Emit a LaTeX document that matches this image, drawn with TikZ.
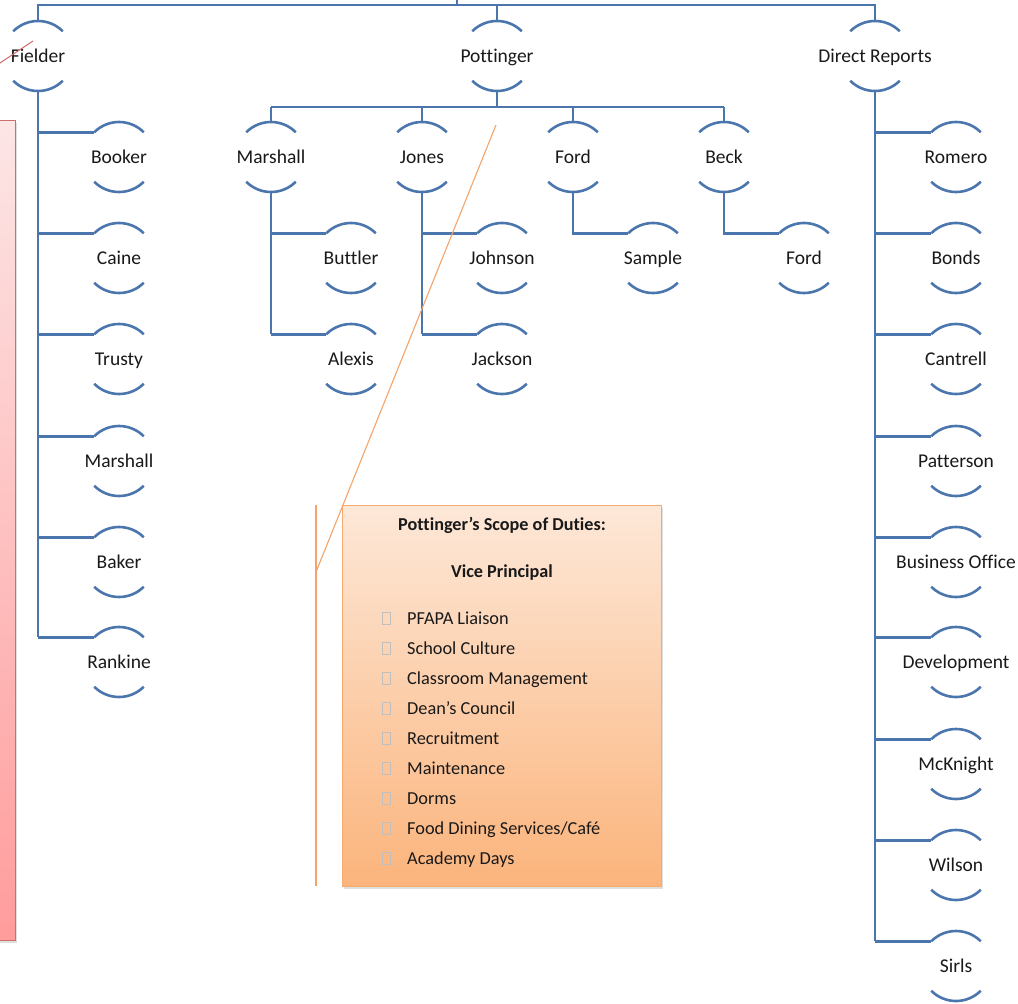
\documentclass[tikz,border=0pt]{standalone}
\usepackage{fontspec}
\setmainfont{Carlito}[Ligatures={NoCommon}]
\usetikzlibrary{calc,shadows}
\definecolor{orgline}{RGB}{74,118,173}
\definecolor{txt}{RGB}{25,25,25}
\definecolor{ptop}{RGB}{253,230,230}
\definecolor{pbot}{RGB}{255,156,156}
\definecolor{pborder}{RGB}{205,110,110}
\definecolor{otop}{RGB}{253,232,216}
\definecolor{obot}{RGB}{251,180,124}
\definecolor{oborder}{RGB}{246,170,110}
\definecolor{oline}{RGB}{244,164,106}
\definecolor{rline}{RGB}{214,110,110}
\begin{document}
\begin{tikzpicture}[x=1pt,y=1pt,
  person/.style={circle, minimum size=70pt, inner sep=0pt, outer sep=0pt,
    label={[font=\fontsize{19.5}{21}\selectfont, text=txt, text height=12.5pt, text depth=0pt, inner sep=0pt]center:#1}},
  conn/.style={draw=orgline, line width=2.9pt},
  arcst/.style={draw=orgline, line width=2.6pt},
  item/.style={anchor=base west, font=\fontsize{18.3}{20}\selectfont, text=txt, inner sep=0pt},
  head/.style={anchor=base, font=\bfseries\fontsize{18.2}{20}\selectfont, text=txt, inner sep=0pt},
  bul/.style={draw=black!25, line width=0.6pt},
  callbox/.style={rectangle, draw=oborder, line width=1pt, top color=otop, bottom color=obot,
    minimum width=319pt, minimum height=381pt, inner sep=0pt,
    drop shadow={opacity=0.25, shadow xshift=1.5pt, shadow yshift=-2.5pt}},
  pinkbox/.style={rectangle, draw=pborder, line width=1pt, top color=ptop, bottom color=pbot,
    minimum width=115pt, minimum height=820pt, inner sep=0pt,
    drop shadow={opacity=0.25, shadow xshift=1.5pt, shadow yshift=-2.5pt}},
  oln/.style={draw=oline, line width=1.1pt},
  rln/.style={draw=rline, line width=1.1pt}
]
\useasboundingbox (0,0) rectangle (1018,-1004);
\clip (0,0) rectangle (1018,-1004);
\fill[white] (0,0) rectangle (1018,-1004);

% left pink callout box (mostly off the picture)
\node[pinkbox] (leftbox) at (-42.5,-530) {};

% orange callout box
\node[callbox] (vpbox) at (501.5,-695.5) {};

% top level nodes
\node[person=Fielder] (fielder) at (38,-56) {};
\node[person=Pottinger] (pott) at (497,-56) {};
\node[person=Direct Reports] (dr) at (875,-56) {};

% Fielder's children
\node[person=Booker] (booker) at (119,-157) {};
\node[person=Caine] (caine) at (119,-258) {};
\node[person=Trusty] (trusty) at (119,-359) {};
\node[person=Marshall] (marshallA) at (119,-461) {};
\node[person=Baker] (baker) at (119,-562) {};
\node[person=Rankine] (rankine) at (119,-662) {};

% Pottinger's children
\node[person=Marshall] (marshallB) at (271,-157) {};
\node[person=Jones] (jones) at (422,-157) {};
\node[person=Ford] (fordA) at (573,-157) {};
\node[person=Beck] (beck) at (724,-157) {};
\node[person=Buttler] (buttler) at (351,-258) {};
\node[person=Alexis] (alexis) at (351,-359) {};
\node[person=Johnson] (johnson) at (502,-258) {};
\node[person=Jackson] (jackson) at (502,-359) {};
\node[person=Sample] (sample) at (653,-258) {};
\node[person=Ford] (fordB) at (804,-258) {};

% Direct reports
\node[person=Romero] (romero) at (956,-157) {};
\node[person=Bonds] (bonds) at (956,-258) {};
\node[person=Cantrell] (cantrell) at (956,-359) {};
\node[person=Patterson] (patterson) at (956,-461) {};
\node[person=Business Office] (busoff) at (956,-562) {};
\node[person=Development] (devel) at (956,-662) {};
\node[person=McKnight] (mcknight) at (956,-764) {};
\node[person=Wilson] (wilson) at (956,-865) {};
\node[person=Sirls] (sirls) at (956,-966) {};

% arcs
\foreach \n in {fielder,pott,dr,booker,caine,trusty,marshallA,baker,rankine,
  marshallB,jones,fordA,beck,buttler,alexis,johnson,jackson,sample,fordB,
  romero,bonds,cantrell,patterson,busoff,devel,mcknight,wilson,sirls}{
  \draw[arcst] (\n.135) arc[start angle=135,end angle=45,radius=35];
  \draw[arcst] (\n.225) arc[start angle=225,end angle=315,radius=35];
}

% top bar
\coordinate (topbar) at (457,-5);
\coordinate (up) at (457,5);
\draw[conn] (fielder.north) |- (dr.north |- topbar) -- (dr.north);
\draw[conn] (pott.north) -- (pott.north |- topbar);
\draw[conn] (topbar) -- (up);

% Fielder branch
\draw[conn] (fielder.south) -- (fielder.south |- rankine.135);
\foreach \c in {booker,caine,trusty,marshallA,baker,rankine}
  \draw[conn] (fielder.south |- \c.135) -- (\c.135);

% Pottinger branch
\coordinate (pbar) at (497,-107);
\draw[conn] (pott.south) -- (pbar);
\draw[conn] (marshallB.north |- pbar) -- (beck.north |- pbar);
\foreach \c in {marshallB,jones,fordA,beck}
  \draw[conn] (\c.north |- pbar) -- (\c.north);
\draw[conn] (marshallB.south) -- (marshallB.south |- alexis.135);
\draw[conn] (marshallB.south |- buttler.135) -- (buttler.135);
\draw[conn] (marshallB.south |- alexis.135) -- (alexis.135);
\draw[conn] (jones.south) -- (jones.south |- jackson.135);
\draw[conn] (jones.south |- johnson.135) -- (johnson.135);
\draw[conn] (jones.south |- jackson.135) -- (jackson.135);
\draw[conn] (fordA.south) |- (sample.135);
\draw[conn] (beck.south) |- (fordB.135);

% Direct reports branch
\draw[conn] (dr.south) -- (dr.south |- sirls.135);
\foreach \c in {romero,bonds,cantrell,patterson,busoff,devel,mcknight,wilson,sirls}
  \draw[conn] (dr.south |- \c.135) -- (\c.135);

% callout lines
\coordinate (co1) at (496,-125);
\coordinate (co2) at (316,-572);
\coordinate (bar1) at (316,-505);
\coordinate (bar2) at (316,-886);
\draw[oln] (co1) -- (co2);
\draw[oln] (bar1) -- (bar2);

\coordinate (rl1) at (33,-41);
\coordinate (rl2) at (-30,-83);
\draw[rln] (rl1) -- (rl2);

% callout text
\node[head] (t1) at (502,-530) {Pottinger’s Scope of Duties:};
\node[head] (t2) at (502,-577) {Vice Principal};
\foreach \t [count=\i from 0] in {PFAPA Liaison,School Culture,Classroom Management,Dean’s Council,Recruitment,Maintenance,Dorms,Food Dining Services/Café,Academy Days}{
  \node[item] (it\i) at (407,-624-30*\i) {\t};
  \draw[bul] (382,-612.5-30*\i) rectangle (390.5,-624-30*\i);
}
\end{tikzpicture}
\end{document}
